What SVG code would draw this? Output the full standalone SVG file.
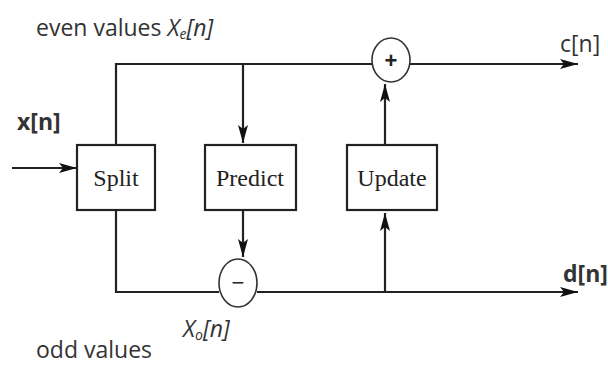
<svg xmlns="http://www.w3.org/2000/svg" width="608" height="365" viewBox="0 0 608 365">
<defs>
<style>
.ln{fill:none;stroke:#222;stroke-width:2.2}
.box{fill:#fff;stroke:#222;stroke-width:2.2}
.sum{fill:#fff;stroke:#333;stroke-width:1.6}
.lbl{font-family:"Open Sans","Noto Sans",sans-serif;fill:#333;font-size:23px}
.blk{font-family:"Liberation Serif","DejaVu Serif",serif;fill:#222;font-size:24px;text-anchor:middle}
.b{font-weight:bold}
.it{font-style:italic}
</style>
<marker id="ah" viewBox="0 0 18 10" refX="18" refY="5" markerWidth="18" markerHeight="10" markerUnits="userSpaceOnUse" orient="auto">
<path d="M0,0 L18,5 L0,10 L4,5 Z" fill="#111"/>
</marker>
</defs>
<rect width="608" height="365" fill="#fff"/>
<g id="connectors">
<line class="ln" x1="12" y1="168" x2="77" y2="168" marker-end="url(#ah)"/>
<polyline class="ln" points="116,145 116,64 372,64"/>
<line class="ln" x1="410" y1="64" x2="578" y2="64" marker-end="url(#ah)"/>
<line class="ln" x1="243" y1="64" x2="243" y2="143" marker-end="url(#ah)"/>
<line class="ln" x1="243" y1="210" x2="243" y2="257" marker-end="url(#ah)"/>
<polyline class="ln" points="116,210 116,292 219,292"/>
<line class="ln" x1="257" y1="292" x2="578" y2="292" marker-end="url(#ah)"/>
<line class="ln" x1="385" y1="292" x2="385" y2="213" marker-end="url(#ah)"/>
<line class="ln" x1="385" y1="145" x2="385" y2="84" marker-end="url(#ah)"/>
</g>
<g id="split"><rect class="box" x="77" y="145" width="78" height="65"/><text class="blk" x="116" y="186">Split</text></g>
<g id="predict"><rect class="box" x="205" y="145" width="91" height="65"/><text class="blk" x="250" y="186">Predict</text></g>
<g id="update"><rect class="box" x="347" y="145" width="90" height="65"/><text class="blk" x="392" y="186">Update</text></g>
<g id="plus"><ellipse class="sum" cx="391" cy="60" rx="19" ry="22"/><text x="391" y="68" font-family="Liberation Sans,sans-serif" font-weight="bold" font-size="22" text-anchor="middle" fill="#222">+</text></g>
<g id="minus"><ellipse class="sum" cx="238" cy="283" rx="19" ry="24"/><text x="238" y="290" font-family="Liberation Sans,sans-serif" font-size="22" text-anchor="middle" fill="#222">−</text></g>
<g id="labels">
<text class="lbl" x="36" y="36">even values <tspan class="it">X</tspan><tspan class="it" font-size="14" dy="3">e</tspan><tspan class="it" dy="-3">[n]</tspan></text>
<text class="lbl" x="560" y="52">c[n]</text>
<text class="lbl b" x="17" y="130">x[n]</text>
<text class="lbl b" x="563" y="282">d[n]</text>
<text class="lbl it" x="183" y="337">X<tspan font-size="14" dy="3">o</tspan><tspan dy="-3">[n]</tspan></text>
<text class="lbl" x="36" y="358">odd values</text>
</g>
</svg>
